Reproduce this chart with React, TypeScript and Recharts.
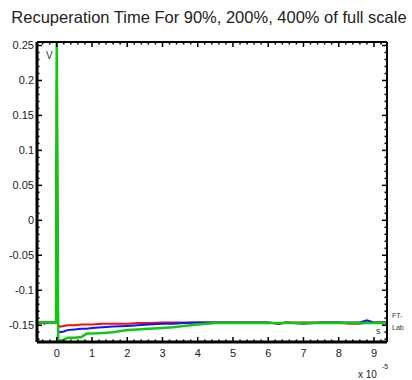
import React from 'react';
import { LineChart, Line, XAxis, YAxis } from 'recharts';

// time axis in units of 1e-5 s
const times = [
  -0.56, -0.4, -0.35, -0.3, -0.02, 0, 0.04, 0.1, 0.2, 0.3, 0.5, 0.7, 0.85, 1, 1.3, 1.6, 2, 2.3, 2.6, 3,
  3.3, 3.6, 4, 4.5, 5, 5.5, 6, 6.3, 6.5, 7, 7.5, 8, 8.3, 8.6, 8.8, 9, 9.37,
];
const red90 = [
  -0.146, -0.146, -0.148, -0.146, -0.146, 0.2, -0.15, -0.152, -0.151, -0.15, -0.15, -0.149, -0.149, -0.149,
  -0.148, -0.148, -0.148, -0.147, -0.147, -0.146, -0.146, -0.146, -0.146, -0.146, -0.146, -0.146, -0.146,
  -0.148, -0.146, -0.146, -0.146, -0.146, -0.148, -0.148, -0.146, -0.146, -0.146,
];
const blue200 = [
  -0.146, -0.146, -0.146, -0.146, -0.146, 0.1, -0.158, -0.16, -0.159, -0.157, -0.156, -0.155, -0.155, -0.154,
  -0.153, -0.152, -0.151, -0.15, -0.149, -0.148, -0.148, -0.147, -0.146, -0.146, -0.146, -0.146, -0.146,
  -0.148, -0.146, -0.148, -0.146, -0.146, -0.146, -0.146, -0.143, -0.146, -0.146,
];
const green400 = [
  -0.146, -0.146, -0.146, -0.146, -0.146, 0.27, -0.171, -0.172, -0.171, -0.168, -0.168, -0.167, -0.162, -0.162,
  -0.161, -0.16, -0.157, -0.156, -0.155, -0.154, -0.153, -0.151, -0.149, -0.147, -0.147, -0.147, -0.147,
  -0.147, -0.147, -0.147, -0.147, -0.147, -0.147, -0.147, -0.147, -0.147, -0.147,
];

const xMajor = [0, 1, 2, 3, 4, 5, 6, 7, 8, 9];
const yMajor = [-0.15, -0.1, -0.05, 0, 0.05, 0.1, 0.15, 0.2, 0.25];
const xDomain = [-0.56, 9.37];
const yDomain = [-0.174, 0.255];

const range = (a: number, b: number, s: number) => {
  const out: number[] = [];
  for (let i = 0; a + i * s <= b + 1e-9; i++) out.push(Math.round((a + i * s) * 1000) / 1000);
  return out;
};
const xTicks = range(-0.4, 9.2, 0.2);
const yTicks = range(-0.17, 0.25, 0.01);
const isMajor = (v: number, list: number[]) => list.some((m) => Math.abs(m - v) < 1e-6);

const data = times.map((t, i) => ({ t, red: red90[i], blue: blue200[i], green: green400[i] }));

const font = '"Liberation Sans", Arial, sans-serif';
const MAJ = 5;
const MIN = 2.5;

const BottomTick = ({ x, y, payload }: any) => {
  const major = isMajor(payload.value, xMajor);
  return (
    <g>
      <line x1={x} x2={x} y1={y} y2={y - (major ? MAJ : MIN)} stroke="#000" strokeWidth={1.5} />
      {major && (
        <text x={x} y={y + 15} textAnchor="middle" fontSize={11} fill="#222" fontFamily={font}>
          {payload.value}
        </text>
      )}
    </g>
  );
};
const TopTick = ({ x, y, payload }: any) => {
  const major = isMajor(payload.value, xMajor);
  return <line x1={x} x2={x} y1={y} y2={y + (major ? MAJ : MIN)} stroke="#000" strokeWidth={1.5} />;
};
const LeftTick = ({ x, y, payload }: any) => {
  const major = isMajor(payload.value, yMajor);
  return (
    <g>
      <line x1={x} x2={x + (major ? MAJ : MIN)} y1={y} y2={y} stroke="#000" strokeWidth={1.5} />
      {major && (
        <text x={x - 3} y={y + 4} textAnchor="end" fontSize={11} fill="#222" fontFamily={font}>
          {String(payload.value)}
        </text>
      )}
    </g>
  );
};
const RightTick = ({ x, y, payload }: any) => {
  const major = isMajor(payload.value, yMajor);
  return <line x1={x} x2={x - (major ? MAJ : MIN)} y1={y} y2={y} stroke="#000" strokeWidth={1.5} />;
};

export default function App() {
  return (
    <div style={{ position: 'absolute', left: 0, top: 0, width: 412, height: 380, background: '#fff' }}>
      <LineChart width={412} height={380} data={data} margin={{ top: 41, right: 24, bottom: 37, left: 36 }}>
        <XAxis
          dataKey="t"
          type="number"
          domain={xDomain}
          ticks={xTicks}
          interval={0}
          height={1}
          tickSize={0}
          tickMargin={0}
          tick={BottomTick}
          axisLine={{ stroke: '#000', strokeWidth: 3 }}
          allowDataOverflow
        />
        <XAxis
          xAxisId="top"
          dataKey="t"
          orientation="top"
          type="number"
          domain={xDomain}
          ticks={xTicks}
          interval={0}
          height={1}
          tickSize={0}
          tickMargin={0}
          tick={TopTick}
          axisLine={{ stroke: '#000', strokeWidth: 2 }}
          allowDataOverflow
        />
        <YAxis
          type="number"
          domain={yDomain}
          ticks={yTicks}
          interval={0}
          width={1}
          tickSize={0}
          tickMargin={0}
          tick={LeftTick}
          axisLine={{ stroke: '#000', strokeWidth: 3 }}
          allowDataOverflow
        />
        <YAxis
          yAxisId="right"
          orientation="right"
          type="number"
          domain={yDomain}
          ticks={yTicks}
          interval={0}
          width={1}
          tickSize={0}
          tickMargin={0}
          tick={RightTick}
          axisLine={{ stroke: '#000', strokeWidth: 2 }}
          allowDataOverflow
        />
        <Line dataKey="red" stroke="#ee1111" strokeWidth={2} dot={false} isAnimationActive={false} />
        <Line dataKey="blue" stroke="#1414ee" strokeWidth={2} dot={false} isAnimationActive={false} />
        <Line dataKey="green" stroke="#11c811" strokeWidth={2.5} dot={false} isAnimationActive={false} />
        <Line xAxisId="top" yAxisId="right" dataKey="green" stroke="none" dot={false} legendType="none" isAnimationActive={false} />
      </LineChart>
      <svg width={412} height={380} style={{ position: 'absolute', left: 0, top: 0, pointerEvents: 'none' }}>
        <text x={209} y={23} textAnchor="middle" fontSize={16.5} fill="#222" fontFamily={font}>
          Recuperation Time For 90%, 200%, 400% of full scale
        </text>
        <text x={46} y={59} fontSize={10} fill="#333" fontFamily={font}>V</text>
        <text x={376} y={334} fontSize={9} fill="#333" fontFamily={font}>s</text>
        <text x={392} y={318} fontSize={7} fill="#333" fontFamily={font}>FT-</text>
        <text x={392} y={330} fontSize={7} fill="#333" fontFamily={font}>Lab</text>
        <text x={358} y={378} fontSize={10} fill="#222" fontFamily={font}>x 10</text>
        <text x={382} y={369} fontSize={7} fill="#222" fontFamily={font}>-5</text>
      </svg>
    </div>
  );
}
